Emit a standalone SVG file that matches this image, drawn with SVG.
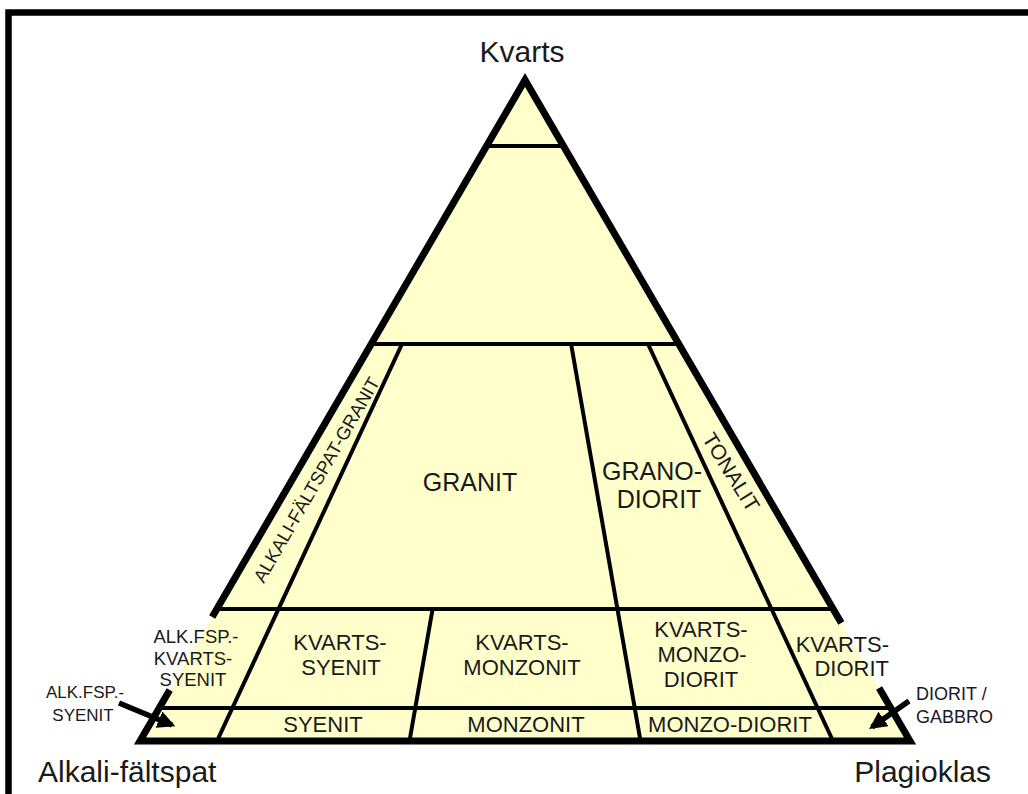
<svg xmlns="http://www.w3.org/2000/svg" width="1028" height="794" viewBox="0 0 1028 794">
<defs>
<style>
.f{fill:#FFFFCC;stroke:none}
.t{font-family:"Liberation Sans",Arial,sans-serif;fill:#1a1a1a;text-anchor:middle}
.l{font-size:22px}
.big{font-size:25px}
.corner{font-size:30px}
.b{stroke:#000;stroke-width:4;fill:none;stroke-linecap:butt}
.o{stroke:#000;stroke-width:7;fill:none;stroke-linejoin:miter;stroke-linecap:butt}
.arr{stroke:#000;stroke-width:5.5;fill:none}
</style>
<marker id="ah" viewBox="0 0 10 10" refX="8" refY="5" markerWidth="3.2" markerHeight="3.2" orient="auto" markerUnits="strokeWidth">
<path d="M0,0 L10,5 L0,10 z" fill="#000"/>
</marker>
</defs>
<rect x="0" y="0" width="1028" height="794" fill="#fff"/>
<rect x="8.5" y="12.5" width="1100" height="900" fill="none" stroke="#000" stroke-width="6.5"/>

<g id="apex"><polygon class="f" points="525,80 563.4,146 486.6,146"/></g>
<g id="q60-90"><polygon class="f" points="486.6,146 563.4,146 678.8,344 371.2,344"/></g>
<g id="alkali-faltspat-granit"><polygon class="f" points="371.2,344 402,344 278.5,609 216.9,609"/>
<text class="t" style="font-size:18.5px" transform="translate(322,483) rotate(-60)">ALKALI-FÄLTSPAT-GRANIT</text></g>
<g id="granit"><polygon class="f" points="402,344 571.1,344 617.4,609 278.5,609"/>
<text class="t big" x="470" y="491">GRANIT</text></g>
<g id="granodiorit"><polygon class="f" points="571.1,344 648,344 771.5,609 617.4,609"/>
<text class="t big" x="652" y="480">GRANO-</text><text class="t big" x="659" y="508">DIORIT</text></g>
<g id="tonalit"><polygon class="f" points="648,344 678.8,344 833.1,609 771.5,609"/>
<text class="t" style="font-size:21px" transform="translate(725,476) rotate(58)">TONALIT</text></g>

<g id="alk-kvarts-syenit"><polygon class="f" points="216.9,609 278.5,609 232.4,708 159.2,708"/>
<text class="t" style="font-size:18.5px" x="196" y="643">ALK.FSP.-</text>
<text class="t" style="font-size:18.5px" x="193" y="665">KVARTS-</text>
<text class="t" style="font-size:18.5px" x="193" y="686">SYENIT</text></g>
<g id="kvarts-syenit"><polygon class="f" points="278.5,609 432.6,609 415.3,708 232.4,708"/>
<text class="t l" x="340" y="650">KVARTS-</text><text class="t l" x="341" y="675">SYENIT</text></g>
<g id="kvarts-monzonit"><polygon class="f" points="432.6,609 617.4,609 634.7,708 415.3,708"/>
<text class="t l" x="522" y="650">KVARTS-</text><text class="t l" x="522" y="675">MONZONIT</text></g>
<g id="kvarts-monzodiorit"><polygon class="f" points="617.4,609 771.5,609 817.6,708 634.7,708"/>
<text class="t l" x="701" y="637">KVARTS-</text><text class="t l" x="702" y="662">MONZO-</text><text class="t l" x="701" y="687">DIORIT</text></g>
<g id="kvarts-diorit"><polygon class="f" points="771.5,609 833.1,609 890.8,708 817.6,708"/>
<text class="t l" style="text-anchor:end" x="889" y="652">KVARTS-</text><text class="t l" style="text-anchor:end" x="889" y="676">DIORIT</text></g>

<g id="alk-syenit"><polygon class="f" points="159.2,708 232.4,708 217,741 140,741"/></g>
<g id="syenit"><polygon class="f" points="232.4,708 415.3,708 409.5,741 217,741"/>
<text class="t l" x="323" y="732">SYENIT</text></g>
<g id="monzonit"><polygon class="f" points="415.3,708 634.7,708 640.5,741 409.5,741"/>
<text class="t l" x="526" y="732">MONZONIT</text></g>
<g id="monzodiorit"><polygon class="f" points="634.7,708 817.6,708 833,741 640.5,741"/>
<text class="t l" x="730" y="732">MONZO-DIORIT</text></g>
<g id="diorit-gabbro"><polygon class="f" points="817.6,708 890.8,708 910,741 833,741"/></g>

<g id="boundaries">
<line class="b" x1="486.6" y1="146" x2="563.4" y2="146"/>
<line class="b" x1="371.2" y1="344" x2="678.8" y2="344"/>
<line class="b" x1="216.9" y1="609" x2="833.1" y2="609"/>
<line class="b" x1="159.2" y1="708" x2="890.8" y2="708"/>
<line class="b" x1="402" y1="344" x2="217" y2="741"/>
<line class="b" x1="432.6" y1="609" x2="409.5" y2="741"/>
<line class="b" x1="571.1" y1="344" x2="640.5" y2="741"/>
<line class="b" x1="648" y1="344" x2="833" y2="741"/>
<path class="o" d="M169.7,690 L140,741 L910,741 L879.1,688"/>
<path class="o" d="M841.3,623 L525,80 L212.2,617"/>
</g>

<g id="arrows">
<line class="arr" x1="119" y1="703" x2="172" y2="725" marker-end="url(#ah)"/>
<line class="arr" x1="909" y1="701" x2="872" y2="727" marker-end="url(#ah)"/>
</g>

<g id="labels">
<text class="t corner" x="522" y="62">Kvarts</text>
<text class="t corner" style="text-anchor:start" x="38" y="782">Alkali-fältspat</text>
<text class="t corner" style="text-anchor:end" x="991" y="782">Plagioklas</text>
<text class="t" style="font-size:17px" x="85" y="698">ALK.FSP.-</text>
<text class="t" style="font-size:17px" x="83" y="721">SYENIT</text>
<text class="t" style="font-size:18px;text-anchor:start" x="916" y="700">DIORIT /</text>
<text class="t" style="font-size:18px;text-anchor:start" x="916" y="723">GABBRO</text>
</g>
</svg>
